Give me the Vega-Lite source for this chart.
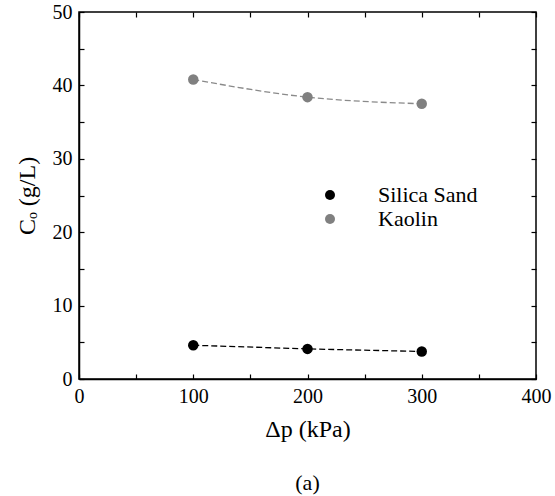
{
  "$schema": "https://vega.github.io/schema/vega-lite/v6.json",
  "width": 457,
  "height": 367,
  "autosize": "none",
  "padding": {"left": 79, "top": 12, "right": 19, "bottom": 117},
  "background": "white",
  "config": {
    "font": "'Liberation Serif', serif",
    "view": {"stroke": "black", "strokeWidth": 1.5},
    "axis": {
      "grid": false,
      "domainColor": "black",
      "domainWidth": 1.5,
      "tickColor": "black",
      "tickWidth": 1.2,
      "tickSize": -5,
      "labelFlush": false,
      "labelOverlap": false,
      "labelFont": "'Liberation Serif', serif",
      "labelFontSize": 20,
      "labelColor": "black",
      "titleFont": "'Liberation Serif', serif",
      "titleFontSize": 24,
      "titleFontWeight": "normal",
      "titleColor": "black"
    },
    "legend": {
      "labelFont": "'Liberation Serif', serif",
      "labelFontSize": 22,
      "labelColor": "black",
      "padding": 0
    }
  },
  "title": {
    "text": "(a)",
    "orient": "bottom",
    "anchor": "middle",
    "offset": 32,
    "fontSize": 22,
    "fontWeight": "normal",
    "font": "'Liberation Serif', serif",
    "color": "black"
  },
  "data": {
    "values": [
      {"dp": 100, "c": 4.6, "material": "Silica Sand"},
      {"dp": 200, "c": 4.1, "material": "Silica Sand"},
      {"dp": 300, "c": 3.75, "material": "Silica Sand"},
      {"dp": 100, "c": 40.8, "material": "Kaolin"},
      {"dp": 200, "c": 38.4, "material": "Kaolin"},
      {"dp": 300, "c": 37.5, "material": "Kaolin"}
    ]
  },
  "layer": [
    {
      "transform": [{"filter": "datum.material == 'Silica Sand'"}],
      "mark": {"type": "line", "strokeDash": [6, 3], "strokeWidth": 1.3, "color": "black"},
      "encoding": {
        "x": {
          "field": "dp", "type": "quantitative",
          "scale": {"domain": [0, 400], "nice": false},
          "axis": {
            "orient": "bottom",
            "values": [0, 50, 100, 150, 200, 250, 300, 350, 400],
            "labelExpr": "datum.value % 100 == 0 ? datum.label : ''",
            "labelPadding": 12,
            "labelFlush": false,
            "title": "Δp (kPa)",
            "titlePadding": 11
          }
        },
        "y": {
          "field": "c", "type": "quantitative",
          "scale": {"domain": [0, 50], "nice": false},
          "axis": {
            "orient": "left",
            "values": [0, 5, 10, 15, 20, 25, 30, 35, 40, 45, 50],
            "labelExpr": "datum.value % 10 == 0 ? datum.label : ''",
            "labelPadding": 12,
            "labelFlush": false,
            "title": "Cₒ (g/L)",
            "titlePadding": 13
          }
        }
      }
    },
    {
      "transform": [{"filter": "datum.material == 'Kaolin'"}],
      "mark": {"type": "line", "strokeDash": [6, 3], "strokeWidth": 1.3, "color": "#8a8a8a", "interpolate": "monotone"},
      "encoding": {
        "x": {"field": "dp", "type": "quantitative", "axis": null},
        "y": {"field": "c", "type": "quantitative", "axis": null}
      }
    },
    {
      "mark": {"type": "circle", "size": 110, "opacity": 1},
      "encoding": {
        "x": {
          "field": "dp", "type": "quantitative",
          "axis": {
            "orient": "top",
            "values": [0, 50, 100, 150, 200, 250, 300, 350, 400],
            "labels": false, "domain": false, "title": null
          }
        },
        "y": {
          "field": "c", "type": "quantitative",
          "axis": {
            "orient": "right",
            "values": [0, 5, 10, 15, 20, 25, 30, 35, 40, 45, 50],
            "labels": false, "domain": false, "title": null
          }
        },
        "color": {
          "field": "material", "type": "nominal",
          "scale": {"domain": ["Silica Sand", "Kaolin"], "range": ["black", "#808080"]},
          "legend": {
            "title": null,
            "orient": "none",
            "legendX": 240,
            "legendY": 172,
            "symbolType": "circle",
            "symbolSize": 100,
            "symbolOpacity": 1,
            "labelOffset": 37,
            "rowPadding": 2
          }
        }
      }
    }
  ]
}
